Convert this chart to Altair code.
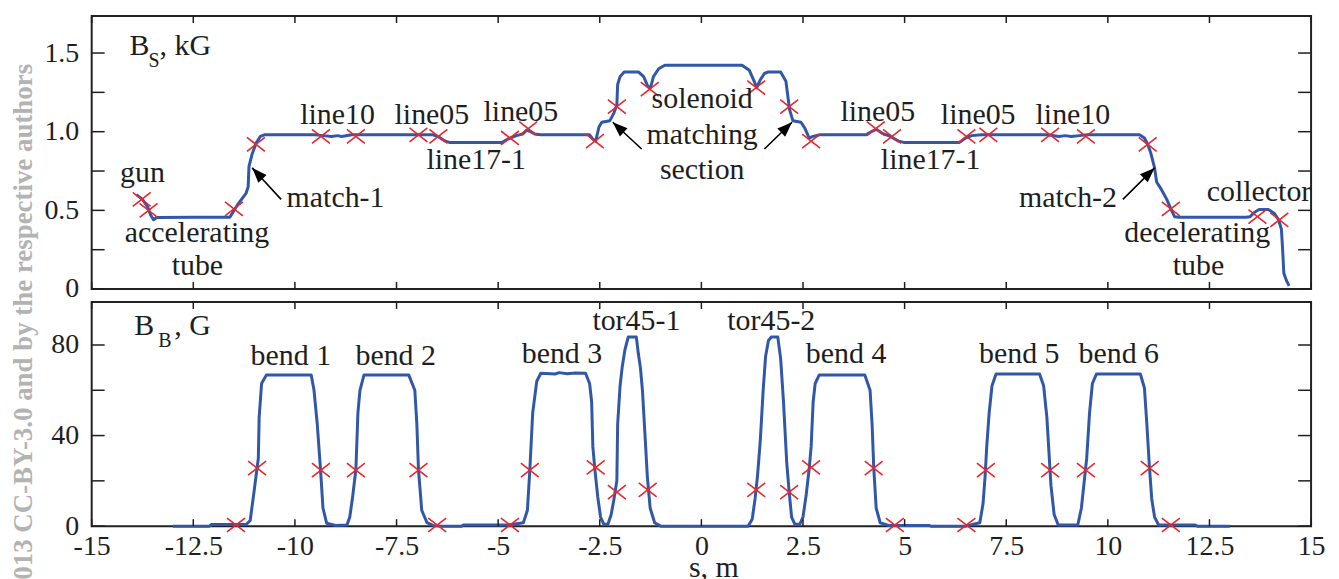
import altair as alt
import pandas as pd

SERIF = "'Liberation Serif', 'Times New Roman', Times, 'DejaVu Serif', serif"
INK = "#1e1e1e"
BLUE = "#3157a8"
RED = "#e8262d"

# ---------------- top panel: longitudinal field Bs (kG) ----------------
S_TOP = [-13.9, -13.75, -13.62, -13.55, -13.48, -13.40, -12.5, -11.6, -11.52, -11.4,
         -11.2, -11.15, -11.13, -11.05, -10.95, -10.85, -10.75, -9.5, -9.3, -9.1,
         -8.95, -8.85, -8.6, -6.6, -6.45, -6.3, -6.2, -4.9, -4.75, -4.55,
         -4.4, -4.3, -4.2, -4.1, -3.95, -2.75, -2.66, -2.6, -2.52, -2.45,
         -2.25, -2.15, -2.08, -2.06, -2.0, -1.9, -1.55, -1.42, -1.32, -1.25,
         -1.18, -1.05, -0.9, 1.0, 1.18, 1.30, 1.36, 1.45, 1.55, 1.65,
         1.95, 2.08, 2.13, 2.17, 2.25, 2.45, 2.55, 2.65, 2.75, 2.9,
         4.05, 4.18, 4.3, 4.45, 4.65, 4.85, 4.98, 6.35, 6.5, 6.65,
         6.9, 8.5, 8.8, 8.95, 9.1, 9.3, 9.5, 10.78, 10.9, 10.98,
         11.05, 11.15, 11.2, 11.3, 11.45, 11.55, 11.64, 11.75, 13.4, 13.5,
         13.62, 13.72, 13.95, 14.1, 14.2, 14.27, 14.3, 14.33, 14.4, 14.46]
B_TOP = [0.60, 0.57, 0.52, 0.47, 0.44, 0.455, 0.456, 0.456, 0.49, 0.54,
         0.61, 0.65, 0.78, 0.86, 0.93, 0.97, 0.98, 0.98, 0.975, 0.97,
         0.975, 0.97, 0.98, 0.98, 0.965, 0.94, 0.932, 0.932, 0.955, 0.975,
         0.985, 1.01, 1.0, 0.985, 0.98, 0.98, 0.95, 0.94, 1.03, 1.06,
         1.07, 1.12, 1.17, 1.30, 1.35, 1.38, 1.38, 1.35, 1.29, 1.28,
         1.35, 1.40, 1.422, 1.422, 1.39, 1.32, 1.28, 1.33, 1.37, 1.38,
         1.38, 1.32, 1.22, 1.14, 1.07, 1.06, 1.02, 0.96, 0.97, 0.98,
         0.98, 1.00, 1.015, 0.99, 0.97, 0.94, 0.932, 0.932, 0.96, 0.975,
         0.98, 0.98, 0.97, 0.975, 0.97, 0.975, 0.98, 0.98, 0.96, 0.92,
         0.87, 0.77, 0.68, 0.64, 0.57, 0.51, 0.46, 0.456, 0.456, 0.46,
         0.49, 0.505, 0.505, 0.48, 0.44, 0.38, 0.25, 0.10, 0.05, 0.02]

CROSS_TOP_S = [-13.77, -13.6, -11.5, -10.96, -9.36, -8.5, -6.96, -6.47, -4.71, -4.26,
               -2.62, -2.08, -1.27, 1.35, 2.16, 2.7, 4.29, 4.69, 6.52, 7.06,
               8.58, 9.46, 10.98, 11.55, 13.68, 14.22]
CROSS_TOP_B = [0.57, 0.50, 0.51, 0.92, 0.97, 0.97, 0.98, 0.97, 0.96, 1.02,
               0.94, 1.16, 1.27, 1.28, 1.16, 0.94, 1.02, 0.97, 0.97, 0.98,
               0.98, 0.97, 0.92, 0.51, 0.46, 0.44]

TOP_TEXT = ["gun", "accelerating", "tube", "match-1", "line10", "line05", "line17-1",
            "line05", "solenoid", "matching", "section", "line05", "line17-1", "line05",
            "line10", "match-2", "decelerating", "tube", "collector"]
TOP_TEXT_S = [-13.75, -12.41, -12.40, -9.0, -8.95, -6.63, -5.54, -4.44, 0.02, 0.02,
              0.02, 4.34, 5.64, 6.81, 9.14, 9.02, 12.2, 12.23, 13.72]
TOP_TEXT_B = [0.68, 0.30, 0.089, 0.52, 1.05, 1.05, 0.76, 1.07, 1.15, 0.92,
              0.70, 1.07, 0.76, 1.05, 1.05, 0.52, 0.30, 0.089, 0.56]

ARROW_TAIL_S = [-10.34, -1.47, 1.55, 10.37]
ARROW_TAIL_B = [0.57, 0.89, 0.89, 0.57]
ARROW_TIP_S = [-11.05, -2.18, 2.23, 11.15]
ARROW_TIP_B = [0.77, 1.06, 1.06, 0.77]
ARROW_ANGLE = [317, 313, 46, 46]

TOP_TITLE = ["B", "S", ", kG"]
TOP_TITLE_S = [-14.07, -13.60, -13.33]
TOP_TITLE_B = [1.487, 1.411, 1.487]
TOP_TITLE_FS = [30, 20, 30]

# ---------------- bottom panel: bending field BB (G) ----------------
S_BOT = [-13.0, -12.1, -12.05, -11.2, -11.1, -11.0, -10.9, -10.88, -10.82, -10.7,
         -9.6, -9.53, -9.45, -9.37, -9.31, -9.22, -9.0, -8.72, -8.65, -8.58,
         -8.5, -8.45, -8.4, -8.3, -7.2, -7.05, -7.0, -6.96, -6.88, -6.75,
         -6.6, -6.4, -5.9, -5.85, -4.9, -4.75, -4.38, -4.28, -4.22, -4.15,
         -4.05, -3.95, -3.6, -3.5, -3.3, -3.1, -2.85, -2.75, -2.7, -2.67,
         -2.62, -2.55, -2.48, -2.4, -2.3, -2.22, -2.15, -2.08, -2.06, -2.0,
         -1.95, -1.88, -1.8, -1.6, -1.55, -1.5, -1.45, -1.38, -1.33, -1.26,
         -1.15, -1.0, 1.15, 1.25, 1.32, 1.38, 1.45, 1.52, 1.58, 1.65,
         1.72, 1.88, 1.95, 2.02, 2.1, 2.16, 2.22, 2.3, 2.42, 2.5,
         2.58, 2.65, 2.7, 2.75, 2.8, 2.9, 4.02, 4.15, 4.2, 4.24,
         4.3, 4.4, 4.6, 5.6, 5.65, 6.5, 6.85, 6.93, 6.98, 7.02,
         7.08, 7.15, 7.25, 8.32, 8.42, 8.5, 8.56, 8.6, 8.68, 8.78,
         9.26, 9.35, 9.42, 9.48, 9.55, 9.62, 9.72, 10.8, 10.9, 10.96,
         11.02, 11.08, 11.15, 11.25, 12.15, 12.2, 13.0]
B_BOT = [0.0, 0.0, 0.7, 0.7, 2.5, 16, 30, 48, 63, 66.8,
         66.8, 60, 45, 25, 8, 1.3, 0.3, 0.5, 4, 13,
         25, 50, 60, 66.8, 66.8, 60, 45, 25, 7, 1.5,
         0.3, 0.0, 0.0, 0.5, 0.5, 0.5, 1.5, 7, 25, 50,
         64, 67.5, 67.2, 67.8, 67.3, 67.6, 67.5, 63, 55, 35,
         25, 13, 4, 0.8, 0.8, 5, 12, 20, 45, 62,
         70, 78, 83.5, 83.5, 76, 70, 60, 38, 22, 8,
         1.5, 0.0, 0.0, 3, 12, 22, 38, 60, 75, 82,
         83.5, 83.5, 74, 55, 28, 15, 4, 0.8, 0.8, 4,
         14, 25, 35, 55, 63, 66.8, 66.8, 60, 45, 26,
         8, 1.5, 0.3, 0.3, 0.0, 0.0, 1.5, 10, 22, 35,
         50, 62, 67.2, 67.2, 62, 48, 30, 18, 5, 0.5,
         0.5, 8, 20, 30, 50, 63, 67.2, 67.2, 61, 45,
         27, 12, 4, 0.5, 0.5, 0.0, 0.0]

CROSS_BOT_S = [-11.45, -10.93, -9.36, -8.5, -6.96, -6.5, -4.71, -4.22, -2.6, -2.08,
               -1.32, 1.35, 2.16, 2.7, 4.24, 4.76, 6.52, 7.0, 8.58, 9.46,
               11.03, 11.55]
CROSS_BOT_B = [0.5, 25.6, 24.7, 24.7, 24.7, 0.5, 0.5, 24.7, 26, 15,
               16, 16, 15, 26, 25.6, 0.5, 0.5, 24.7, 24.7, 24.7,
               25.6, 0.5]

BOT_TEXT = ["bend 1", "bend 2", "bend 3", "tor45-1", "tor45-2", "bend 4", "bend 5", "bend 6"]
BOT_TEXT_S = [-10.1, -7.52, -3.43, -1.6, 1.72, 3.56, 7.82, 10.27]
BOT_TEXT_B = [71, 71, 72, 86.5, 86.5, 72, 72, 72]

BOT_TITLE = ["B", "B", ", G"]
BOT_TITLE_S = [-13.95, -13.36, -12.97]
BOT_TITLE_B = [84.3, 79.0, 84.3]
BOT_TITLE_FS = [30, 20, 30]

# ---------------- axes ----------------
X_TICKS = [-15, -12.5, -10, -7.5, -5, -2.5, 0, 2.5, 5, 7.5, 10, 12.5, 15]
Y_TICKS_TOP = [0, 0.25, 0.5, 0.75, 1.0, 1.25, 1.5]
Y_LABELS_TOP = [0, 0.5, 1.0, 1.5]
Y_TICKS_BOT = [0, 20, 40, 60, 80]
Y_LABELS_BOT = [0, 40, 80]
X_DOMAIN = [-15, 15]
Y_DOMAIN_TOP = [0, 1.735]
Y_DOMAIN_BOT = [0, 99]

WATERMARK = "013 CC-BY-3.0 and by the respective authors"

W = 1224
H_TOP = 274
H_BOT = 225
YT_LEN = 13
XT_LEN = 7

CROSS_PATH = "M-1,-0.78L1,0.78M-1,0.78L1,-0.78"
HEAD_PATH = "M0,0L-0.75,2L0.75,2Z"

x_scale = alt.Scale(domain=X_DOMAIN, nice=False, zero=False)

x_top = alt.X("s:Q", scale=x_scale, axis=None)
y_top = alt.Y("B:Q", scale=alt.Scale(domain=Y_DOMAIN_TOP, nice=False, zero=False),
              axis=alt.Axis(values=Y_LABELS_TOP, title=None, labelPadding=13,
                            labelExpr="datum.value == 0 ? '0' : format(datum.value, '.1f')"))
x_bot = alt.X("s:Q", scale=x_scale,
              axis=alt.Axis(values=X_TICKS, labelExpr="'' + datum.value", title="s, m",
                            labelPadding=6, labelFlush=False, labelOverlap=False,
                            titlePadding=-7, titleX=624))
y_bot = alt.Y("B:Q", scale=alt.Scale(domain=Y_DOMAIN_BOT, nice=False, zero=False),
              axis=alt.Axis(values=Y_LABELS_BOT, title=None, labelPadding=13,
                            labelExpr="'' + datum.value"))


def panel(xdef, ydef, s_line, b_line, cs, cb, txt, ts, tb, ttl, tts, ttb, tfs,
          y_ticks, h, arrows=None, extra=None):
    line_df = pd.DataFrame({"s": s_line, "B": b_line, "i": list(range(len(s_line)))})
    cross_df = pd.DataFrame({"s": cs, "B": cb})
    text_df = pd.DataFrame({"s": ts, "B": tb, "t": txt})
    title_df = pd.DataFrame({"s": tts, "B": ttb, "t": ttl, "fs": tfs})
    yt_df = pd.DataFrame({"B": y_ticks})
    xt_df = pd.DataFrame({"s": X_TICKS})

    layers = [
        alt.Chart(line_df).mark_line(color=BLUE, strokeWidth=3, strokeJoin="round")
        .encode(x=xdef, y=ydef, order="i:Q"),
        alt.Chart(cross_df).mark_point(shape=CROSS_PATH, filled=False, color=RED,
                                       strokeWidth=1.6, size=324, opacity=1)
        .encode(x=xdef, y=ydef),
        alt.Chart(text_df).mark_text(font=SERIF, fontSize=30, color=INK, align="center",
                                     baseline="alphabetic")
        .encode(x=xdef, y=ydef, text="t:N"),
        alt.Chart(title_df).mark_text(font=SERIF, color=INK, align="left", baseline="alphabetic")
        .encode(x=xdef, y=ydef, text="t:N", size=alt.Size("fs:Q", scale=None)),
        alt.Chart(yt_df).mark_rule(color=INK, strokeWidth=1.5)
        .encode(y=ydef, x=alt.value(0), x2=alt.value(YT_LEN)),
        alt.Chart(yt_df).mark_rule(color=INK, strokeWidth=1.5)
        .encode(y=ydef, x=alt.value(W - YT_LEN), x2=alt.value(W)),
        alt.Chart(xt_df).mark_rule(color=INK, strokeWidth=1.5)
        .encode(x=xdef, y=alt.value(0), y2=alt.value(XT_LEN)),
        alt.Chart(xt_df).mark_rule(color=INK, strokeWidth=1.5)
        .encode(x=xdef, y=alt.value(h - XT_LEN), y2=alt.value(h)),
    ]
    if arrows is not None:
        ar_df = pd.DataFrame({"s": arrows[0], "B": arrows[1], "s2": arrows[2],
                              "B2": arrows[3], "ang": arrows[4]})
        layers.append(
            alt.Chart(ar_df).mark_rule(color="black", strokeWidth=1.6)
            .encode(x=xdef, y=ydef, x2="s2:Q", y2="B2:Q"))
        layers.append(
            alt.Chart(ar_df).mark_point(shape=HEAD_PATH, filled=True, color="black",
                                        size=225, opacity=1, strokeWidth=0)
            .encode(x=alt.X("s2:Q", scale=x_scale, axis=None),
                    y=alt.Y("B2:Q"),
                    angle=alt.Angle("ang:Q", scale=None)))
    if extra is not None:
        layers.append(extra)
    return alt.layer(*layers).properties(width=W, height=h)


top = panel(x_top, y_top, S_TOP, B_TOP, CROSS_TOP_S, CROSS_TOP_B,
            TOP_TEXT, TOP_TEXT_S, TOP_TEXT_B,
            TOP_TITLE, TOP_TITLE_S, TOP_TITLE_B, TOP_TITLE_FS,
            Y_TICKS_TOP, H_TOP,
            arrows=(ARROW_TAIL_S, ARROW_TAIL_B, ARROW_TIP_S, ARROW_TIP_B, ARROW_ANGLE))

wm = alt.Chart(pd.DataFrame({"t": [WATERMARK]})).mark_text(
    font=SERIF, fontSize=27, fontWeight="bold", color="#b3b3b3",
    angle=270, align="right", baseline="alphabetic"
).encode(x=alt.value(-60), y=alt.value(-239), text="t:N")

bottom = panel(x_bot, y_bot, S_BOT, B_BOT, CROSS_BOT_S, CROSS_BOT_B,
               BOT_TEXT, BOT_TEXT_S, BOT_TEXT_B,
               BOT_TITLE, BOT_TITLE_S, BOT_TITLE_B, BOT_TITLE_FS,
               Y_TICKS_BOT, H_BOT, extra=wm)

chart = alt.VConcatChart(vconcat=[top, bottom], spacing=13, bounds="flush").properties(
    padding={"left": 1, "top": 5, "right": 5, "bottom": 0},
    background="white",
).configure_view(
    stroke="#222222", strokeWidth=2
).configure_axis(
    labelFont=SERIF, labelFontSize=28, labelColor=INK,
    titleFont=SERIF, titleFontSize=30, titleFontWeight="normal", titleColor=INK,
    grid=False, domain=False, ticks=False,
)

chart.save("out.html", embed_options={"renderer": "svg", "actions": False})
